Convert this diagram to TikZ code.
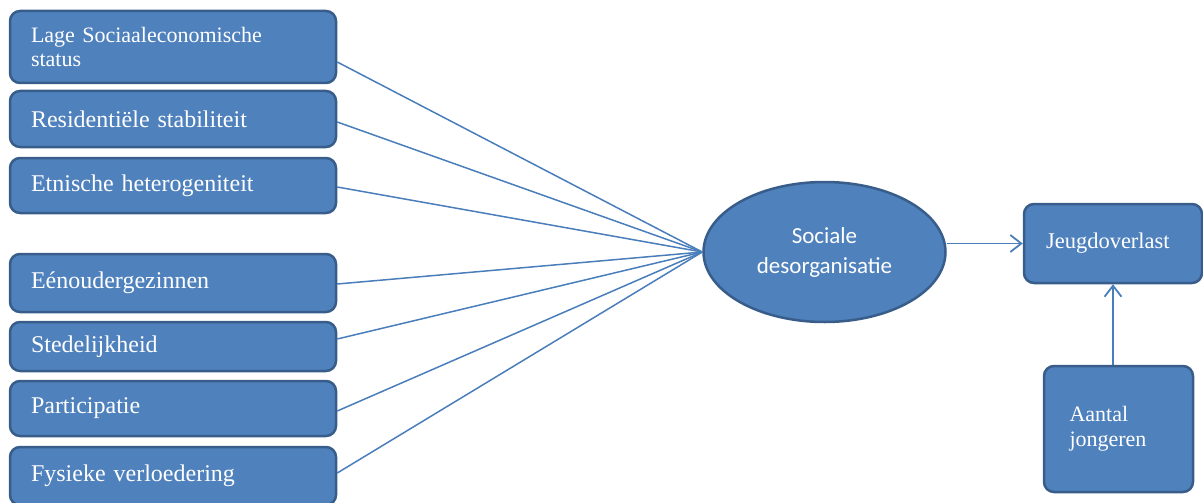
\documentclass[tikz,border=0pt]{standalone}
\usepackage{fontspec}
\setmainfont{Liberation Serif}
\newfontfamily\calib{Carlito}
\usetikzlibrary{shapes.geometric,arrows.meta}
\definecolor{boxfill}{HTML}{4F81BD}
\definecolor{boxline}{HTML}{385D8A}
\definecolor{conn}{HTML}{4A7EBB}
\begin{document}
\begin{tikzpicture}[x=1pt,y=-1pt,
  box/.style={draw=boxline, fill=boxfill, line width=2.5pt, rounded corners=10pt,
    text=white, align=left, inner xsep=21pt, inner ysep=0pt,
    font=\fontsize{24}{28}\selectfont},
  leftbox/.style={box, minimum width=326pt, text width=284pt},
  oval/.style={ellipse, draw=boxline, fill=boxfill, line width=2.5pt, text=white,
    align=center, inner sep=0pt, minimum width=242pt, minimum height=140pt,
    font=\calib\fontsize{23}{30}\selectfont},
  fan/.style={draw=conn, line width=1.5pt},
  arr/.style={draw=conn, line width=1.8pt, -{Straight Barb[length=11pt,width=17pt,line width=1.8pt]}}]
\useasboundingbox (0,0) rectangle (1203,503);

\node[leftbox, minimum height=72pt, font=\fontsize{22}{24}\selectfont] (b1) at (173,47) {Lage Sociaaleconomische\\status};
\node[leftbox, minimum height=56pt] (b2) at (173,119) {Residentiële stabiliteit};
\node[leftbox, minimum height=55pt] (b3) at (173,185.5) {Etnische heterogeniteit};
\node[leftbox, minimum height=58pt] (b4) at (173,283) {Eénoudergezinnen};
\node[leftbox, minimum height=49pt] (b5) at (173,346.5) {Stedelijkheid};
\node[leftbox, minimum height=55pt] (b6) at (173,408.5) {Participatie};
\node[leftbox, minimum height=58pt] (b7) at (173,476) {Fysieke verloedering};

\node[oval] (sd) at (824.5,252) {Sociale\\desorganisatie};

\node[box, minimum width=178pt, minimum height=79pt, text width=134pt, inner xsep=22pt, font=\fontsize{22.5}{26}\selectfont] (jo) at (1113,243.5) {Jeugdoverlast};
\node[box, minimum width=149pt, minimum height=126pt, text width=98pt, inner xsep=25pt, font=\fontsize{22}{25}\selectfont] (aj) at (1118.5,429) {Aantal\\jongeren};

\draw[fan] ([yshift=-15pt]b1.east) -- (sd.west);
\draw[fan] ([yshift=-3pt]b2.east) -- (sd.west);
\draw[fan] ([yshift=-1.5pt]b3.east) -- (sd.west);
\draw[fan] ([yshift=-1pt]b4.east) -- (sd.west);
\draw[fan] ([yshift=7.5pt]b5.east) -- (sd.west);
\draw[fan] ([yshift=-2.5pt]b6.east) -- (sd.west);
\draw[fan] ([yshift=3pt]b7.east) -- (sd.west);

\draw[arr] (sd.east |- jo.west) -- (jo.west);
\draw[arr] (jo.south |- aj.north) -- (jo.south);
\end{tikzpicture}
\end{document}
